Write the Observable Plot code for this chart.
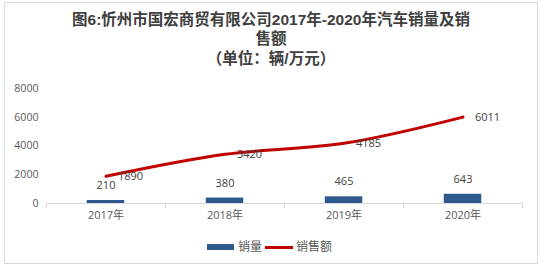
<!DOCTYPE html>
<html>
<head>
<meta charset="utf-8">
<script src="https://cdn.jsdelivr.net/npm/d3@7"></script>
<script src="https://cdn.jsdelivr.net/npm/@observablehq/plot@0.6"></script>
<style>
  html, body { margin: 0; padding: 0; background: #fff; }
  #wrap { position: relative; width: 542px; height: 272px; overflow: hidden; }
  #frame { position: absolute; left: 4px; top: 2px; width: 532px; height: 260px; border: 1px solid #d9d9d9; box-sizing: content-box; }
  .tl { position: absolute; left: 0; width: 542px; height: 18px; text-align: center; white-space: nowrap;
    font-family: "Liberation Sans", "Noto Sans CJK SC", sans-serif; font-weight: bold; font-size: 15.5px; line-height: 18px; color: #404040; }
  #chart { position: absolute; left: 0; top: 70px; }
  #legend { position: absolute; top: 238px; left: 0; width: 542px; height: 16px;
    font-family: "Noto Sans CJK SC", sans-serif; font-size: 12px; color: #595959; }
  .sw { position: absolute; }
  .lab { position: absolute; top: 0; line-height: 16px; }
</style>
</head>
<body>
<div id="wrap">
  <div id="frame"></div>
  <div class="tl" style="top:11px">图6:忻州市国宏商贸有限公司2017年-2020年汽车销量及销</div>
  <div class="tl" style="top:30px">售额</div>
  <div class="tl" style="top:49.5px">（单位：辆/万元）</div>
  <div id="chart"></div>
  <div id="legend"></div>
</div>
<script>
const years = ["2017年", "2018年", "2019年", "2020年"];
const volume = [210, 380, 465, 643];
const revenue = [1890, 3420, 4185, 6011];
const yTicks = [0, 2000, 4000, 6000, 8000];
const seriesNames = ["销量", "销售额"];
const barColor = "#2f5a8f";
const lineColor = "#c00000";

const data = years.map((y, i) => ({year: y, volume: volume[i], revenue: revenue[i]}));

const W = 542, H = 160, ML = 46, MR = 20;
const bw = (W - ML - MR) / years.length;

const chart = Plot.plot({
  width: W,
  height: H,
  marginLeft: ML,
  marginRight: MR,
  marginTop: 18,
  marginBottom: 27,
  style: {fontFamily: "'Open Sans', sans-serif", fontSize: "10.6px", color: "#595959", background: "transparent"},
  x: {domain: years, padding: 0, label: null},
  y: {domain: [0, 8000], label: null},
  marks: [
    Plot.axisY({ticks: yTicks, tickSize: 0, tickPadding: 8, label: null, tickFormat: d => String(d)}),
    Plot.axisX({tickSize: 0, tickPadding: 8, label: null,
      fontFamily: "'Open Sans', 'Noto Sans CJK SC', sans-serif", fontSize: 11}),
    Plot.barY(data, {x: "year", y: "volume", fill: barColor,
      insetLeft: (bw - 37.5) / 2, insetRight: (bw - 37.5) / 2}),
    Plot.ruleY([0], {stroke: "#d9d9d9", strokeWidth: 1}),
    Plot.ruleX(years, {x: d => d, y1: 0, y2: 0, insetBottom: -5, dx: -bw / 2, stroke: "#d9d9d9"}),
    Plot.ruleX([years[years.length - 1]], {x: d => d, y1: 0, y2: 0, insetBottom: -5, dx: bw / 2, stroke: "#d9d9d9"}),
    Plot.line(data, {x: "year", y: "revenue", stroke: lineColor, strokeWidth: 3, curve: "catmull-rom"}),
    Plot.text(data, {x: "year", y: "volume", text: d => String(d.volume), dy: -15, fill: "#404040", fontSize: 11}),
    Plot.text(data, {x: "year", y: "revenue", text: d => String(d.revenue), dx: 12, textAnchor: "start", fill: "#404040", fontSize: 11})
  ]
});
document.getElementById("chart").appendChild(chart);

// legend
const lg = document.getElementById("legend");
lg.innerHTML = `
  <div class="sw" style="left:207px;top:6px;width:27px;height:6px;background:${barColor}"></div>
  <div class="lab" style="left:238px">${seriesNames[0]}</div>
  <div class="sw" style="left:265px;top:7.5px;width:28px;height:3px;background:${lineColor}"></div>
  <div class="lab" style="left:296px">${seriesNames[1]}</div>`;
</script>
</body>
</html>
